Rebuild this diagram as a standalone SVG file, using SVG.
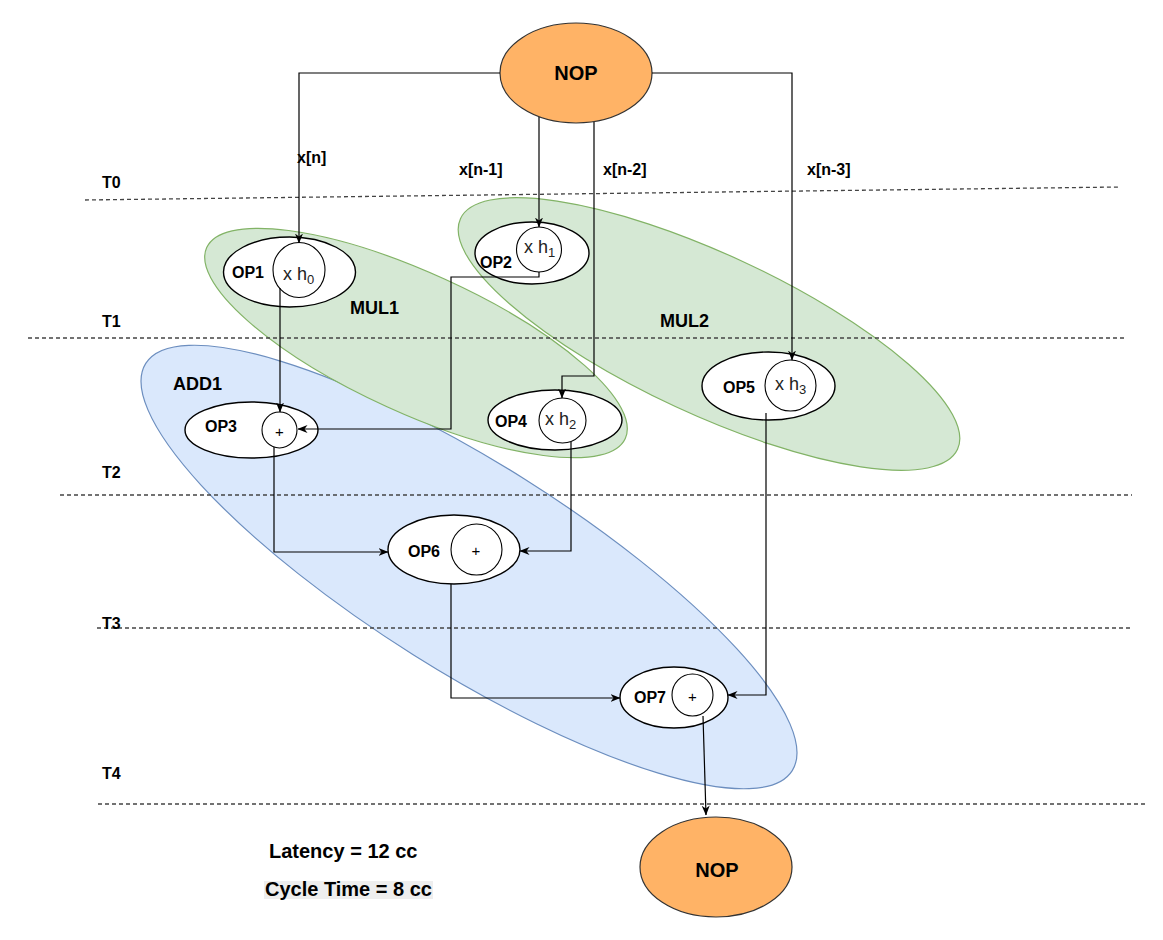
<svg xmlns="http://www.w3.org/2000/svg" width="1163" height="940" viewBox="0 0 1163 940">
<defs>
<style>
.bg{fill:#ffffff}
.mul{fill:#d5e8d4;stroke:#82b366;stroke-width:1.2}
.add{fill:#dae8fc;stroke:#6c8ebf;stroke-width:1.2}
.nop{fill:#ffb366;stroke:#333333;stroke-width:1.2}
.node{fill:#ffffff;stroke:#000000;stroke-width:1.4}
.inner{fill:#ffffff;stroke:#000000;stroke-width:1.1}
.dash{fill:none;stroke:#444444;stroke-width:1.3;stroke-dasharray:4 3}
.conn{fill:none;stroke:#000000;stroke-width:1.2;marker-end:url(#arr)}
.b{font-family:"Liberation Sans",Arial,sans-serif;font-weight:bold;fill:#000000}
.lbl{font-size:16px}
.grp{font-size:18px}
.big{font-size:20px}
.op{font-family:"Liberation Sans",Arial,sans-serif;font-size:18px;fill:#222222}
.sub{font-size:13px}
.plus{font-family:"Liberation Sans",Arial,sans-serif;font-size:15px;fill:#000000;text-anchor:middle}
</style>
<marker id="arr" viewBox="0 0 10 10" refX="9.5" refY="5" markerWidth="10" markerHeight="10" markerUnits="userSpaceOnUse" orient="auto">
<path d="M0,1 L10,5 L0,9 L3,5 z" fill="#000000"/>
</marker>
</defs>
<rect class="bg" x="0" y="0" width="1163" height="940"/>

<g id="ADD1">
<ellipse class="add" cx="469" cy="567" rx="382" ry="104" transform="rotate(32.2 469 567)"/>
<text class="b grp" x="173" y="390">ADD1</text>
</g>
<g id="MUL1">
<ellipse class="mul" cx="416" cy="343" rx="230" ry="70" transform="rotate(24.5 416 343)"/>
<text class="b grp" x="350" y="314">MUL1</text>
</g>
<g id="MUL2">
<ellipse class="mul" cx="709" cy="334" rx="274" ry="80" transform="rotate(24.9 709 334)"/>
<text class="b grp" x="660" y="327">MUL2</text>
</g>

<g id="timeline">
<line class="dash" x1="85" y1="200" x2="1120" y2="187"/>
<line class="dash" x1="28" y1="338" x2="1124" y2="338"/>
<line class="dash" x1="60" y1="495" x2="1132" y2="495"/>
<line class="dash" x1="97" y1="628" x2="1132" y2="628"/>
<line class="dash" x1="98" y1="804" x2="1145" y2="804"/>
<text class="b lbl" x="102" y="188">T0</text>
<text class="b lbl" x="102" y="327">T1</text>
<text class="b lbl" x="102" y="478">T2</text>
<text class="b lbl" x="102" y="629">T3</text>
<text class="b lbl" x="102" y="779">T4</text>
</g>

<g id="NOP_top">
<ellipse class="nop" cx="576" cy="73" rx="76" ry="50"/>
<text class="b big" x="576" y="80" text-anchor="middle">NOP</text>
</g>
<g id="NOP_bottom">
<ellipse class="nop" cx="716" cy="867" rx="76" ry="50"/>
<text class="b big" x="717" y="877" text-anchor="middle">NOP</text>
</g>

<g id="OP1">
<ellipse class="node" cx="289.5" cy="272" rx="66" ry="35"/>
<ellipse class="inner" cx="299" cy="270" rx="26" ry="27.5"/>
<text class="b lbl" x="232" y="278">OP1</text>
<text class="op" x="283" y="280">x h<tspan class="sub" dy="4">0</tspan></text>
</g>
<g id="OP2">
<ellipse class="node" cx="532" cy="253" rx="57" ry="31"/>
<ellipse class="inner" cx="539" cy="249.5" rx="22.5" ry="22.5"/>
<text class="b lbl" x="480" y="268">OP2</text>
<text class="op" x="524" y="253">x h<tspan class="sub" dy="4">1</tspan></text>
</g>
<g id="OP3">
<ellipse class="node" cx="251.5" cy="430" rx="66.5" ry="28"/>
<ellipse class="inner" cx="279.5" cy="430" rx="17.5" ry="18"/>
<text class="b lbl" x="205" y="432">OP3</text>
<text class="plus" x="279.5" y="437">+</text>
</g>
<g id="OP4">
<ellipse class="node" cx="555" cy="420" rx="67" ry="30"/>
<ellipse class="inner" cx="562.5" cy="420.5" rx="23.5" ry="22.5"/>
<text class="b lbl" x="495" y="427">OP4</text>
<text class="op" x="545" y="425">x h<tspan class="sub" dy="4">2</tspan></text>
</g>
<g id="OP5">
<ellipse class="node" cx="768.5" cy="386" rx="66.5" ry="34"/>
<ellipse class="inner" cx="790.5" cy="385.5" rx="25.5" ry="25.5"/>
<text class="b lbl" x="723" y="393">OP5</text>
<text class="op" x="775" y="390">x h<tspan class="sub" dy="4">3</tspan></text>
</g>
<g id="OP6">
<ellipse class="node" cx="454" cy="549.5" rx="66" ry="34.5"/>
<ellipse class="inner" cx="476.5" cy="549.5" rx="25.5" ry="25.5"/>
<text class="b lbl" x="408" y="557">OP6</text>
<text class="plus" x="476" y="556">+</text>
</g>
<g id="OP7">
<ellipse class="node" cx="674" cy="697.5" rx="54" ry="30.5"/>
<ellipse class="inner" cx="692.5" cy="695" rx="20.5" ry="21"/>
<text class="b lbl" x="634" y="703">OP7</text>
<text class="plus" x="692.5" y="702">+</text>
</g>

<g id="connectors">
<path class="conn" d="M500,73 H299 V243"/>
<path class="conn" d="M539,117 V227"/>
<path class="conn" d="M594,122 V376 H562 V398"/>
<path class="conn" d="M652,73 H792 V360"/>
<path class="conn" d="M280,288 V412"/>
<path class="conn" d="M539,272 V277 H451 V429 H298"/>
<path class="conn" d="M571,442 V551 H520"/>
<path class="conn" d="M274,447 V552 H388"/>
<path class="conn" d="M766,413 V695 H728"/>
<path class="conn" d="M451,584 V698 H620"/>
<path class="conn" d="M703,716 L706,815"/>
<text class="b lbl" x="297" y="163">x[n]</text>
<text class="b lbl" x="459" y="175">x[n-1]</text>
<text class="b lbl" x="603" y="175">x[n-2]</text>
<text class="b lbl" x="807" y="175">x[n-3]</text>
</g>

<g id="notes">
<text class="b big" x="269" y="858">Latency = 12 cc</text>
<rect x="264" y="881" width="169" height="18" fill="#eeeeee"/>
<text class="b big" x="265" y="896">Cycle Time = 8 cc</text>
</g>
</svg>
